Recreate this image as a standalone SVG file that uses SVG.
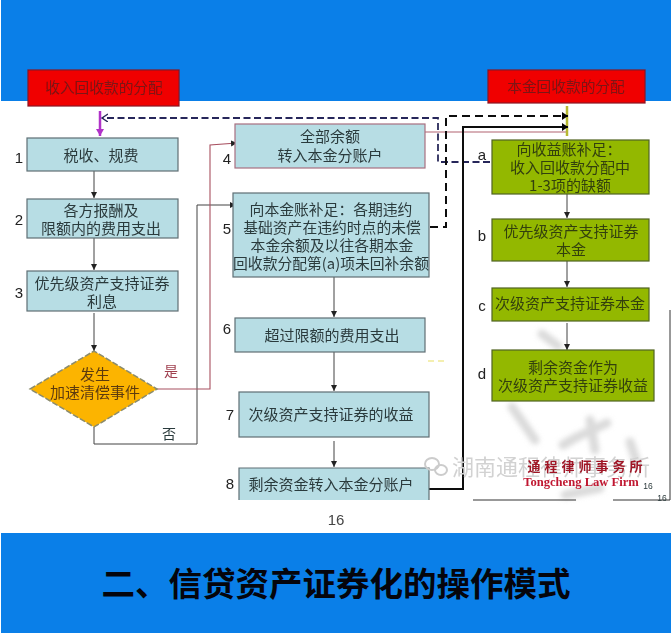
<svg xmlns="http://www.w3.org/2000/svg" width="672" height="633" viewBox="0 0 672 633">
<style>
text{font-family:"Noto Sans CJK SC","Liberation Sans",sans-serif;text-anchor:middle;font-size:15px;fill:#2b3a3c}
.num{font-family:"Liberation Sans",sans-serif;font-size:15px;fill:#222}
.blue{fill:#b7dde4;stroke:#5f6f74;stroke-width:1.2}
.green{fill:#93b800;stroke:#4f6320;stroke-width:1.2}
.red{fill:#f00000;stroke:#8a1020;stroke-width:1.2}
.hd{fill:#7c1414;font-size:14.7px}
.gt{fill:#33400c}
.ln{fill:none;stroke:#444;stroke-width:1}
.wm{fill:none;stroke:#cfcfcf;stroke-linecap:round;opacity:.75}
.n5{font-size:14.8px}
</style>
<defs>
<marker id="a" markerUnits="userSpaceOnUse" markerWidth="8" markerHeight="8" refX="6" refY="3" orient="auto"><path d="M0 0L6 3L0 6Z" fill="#222"/></marker>
<marker id="k" markerUnits="userSpaceOnUse" markerWidth="8" markerHeight="10" refX="6" refY="4" orient="auto"><path d="M0 0L6 4L0 8Z" fill="#000"/></marker>
<marker id="o" markerUnits="userSpaceOnUse" markerWidth="8" markerHeight="10" refX="6" refY="4" orient="auto"><path d="M0 0L6 4L0 8" fill="none" stroke="#27275a" stroke-width="1.4"/></marker>
<marker id="p" markerUnits="userSpaceOnUse" markerWidth="9" markerHeight="8" refX="7" refY="4" orient="auto"><path d="M0 0L7 4L0 8Z" fill="#b030c8"/></marker>
<filter id="s" x="-5%" y="-5%" width="110%" height="110%"><feGaussianBlur stdDeviation="0.35"/></filter>
<filter id="b" x="-20%" y="-20%" width="140%" height="140%"><feGaussianBlur stdDeviation="2.5"/></filter>
</defs>
<rect width="672" height="633" fill="#fff"/>
<rect id="top-band" x="1" width="670" height="101" fill="#0a7fe8"/>
<rect id="bottom-band" x="1" y="533" width="670" height="100" fill="#0a7fe8"/>
<g id="watermark" filter="url(#b)">
<path class="wm" stroke-width="9" d="M542 334L558 346M512 407L535 440M607 423L575 438L563 445M590 420L595 450M630 442L636 460M565 495L600 488"/>
</g>
<g filter="url(#s)">
<g id="connectors">
<path d="M100 111V136" fill="none" stroke="#b030c8" stroke-width="2.5" marker-end="url(#p)"/>
<path d="M94 171V198" class="ln" marker-end="url(#a)"/>
<path d="M94 238V270" class="ln" marker-end="url(#a)"/>
<path d="M94 313V351" class="ln" marker-end="url(#a)"/>
<path d="M94 427V444H197V205H236" class="ln" marker-end="url(#a)"/>
<path d="M157 389H210V145L237 143" fill="none" stroke="#a85060" stroke-width="1.1" marker-end="url(#a)"/>
<path d="M334 277V317" class="ln" marker-end="url(#a)"/>
<path d="M334 352V391" class="ln" marker-end="url(#a)"/>
<path d="M334 441V467" class="ln" marker-end="url(#a)"/>
<path d="M425 132H567" fill="none" stroke="#a85060" stroke-width="0.9"/>
<path d="M567 106V136" fill="none" stroke="#b7b832" stroke-width="2.5"/>
<path d="M490 162H438V118H102" fill="none" stroke="#27275a" stroke-width="1.8" stroke-dasharray="7 3.5" marker-end="url(#o)"/>
<path d="M430 227H446V116H568" fill="none" stroke="#111" stroke-width="2" stroke-dasharray="8 5" marker-end="url(#k)"/>
<path d="M429 489H463V127H568" fill="none" stroke="#111" stroke-width="2" marker-end="url(#k)"/>
<path d="M567 194V218" class="ln" marker-end="url(#a)"/>
<path d="M567 261V287" class="ln" marker-end="url(#a)"/>
<path d="M567 323V350" class="ln" marker-end="url(#a)"/>
</g>
<g id="hd-left"><rect class="red" x="28" y="70" width="151" height="36"/><text class="hd" x="104" y="93">收入回收款的分配</text></g>
<g id="hd-right"><rect class="red" x="488" y="70" width="157" height="33"/><text class="hd" x="566" y="92">本金回收款的分配</text></g>
<g id="n1"><rect class="blue" x="27" y="138" width="151" height="33"/><text x="101" y="161">税收、规费</text><text class="num" x="19" y="163">1</text></g>
<g id="n2"><rect class="blue" x="27" y="199" width="151" height="39"/><text x="101" y="216">各方报酬及</text><text x="101" y="234">限额内的费用支出</text><text class="num" x="19" y="225">2</text></g>
<g id="n3"><rect class="blue" x="27" y="271" width="151" height="40"/><text x="102" y="289">优先级资产支持证券</text><text x="102" y="307">利息</text><text class="num" x="19" y="298">3</text></g>
<g id="n-d"><path d="M30 389L94 351L157 389L94 427Z" fill="#fcb400" stroke="#8c8c6c" stroke-width="1.5" stroke-dasharray="6 2"/><text x="95" y="380" style="fill:#5c3a10">发生</text><text x="95" y="398" style="fill:#5c3a10">加速清偿事件</text></g>
<text x="171" y="376" style="font-size:14px;fill:#a04050">是</text>
<text x="169" y="439" style="font-size:14px">否</text>
<g id="n4"><rect x="235" y="124" width="190" height="44" fill="#b7dde4" stroke="#a87080" stroke-width="1.2"/><text x="330" y="142">全部余额</text><text x="330" y="161">转入本金分账户</text><text class="num" x="227" y="164">4</text></g>
<g id="n5"><rect class="blue" x="233" y="193" width="196" height="84"/><text class="n5" x="331" y="215">向本金账补足：各期违约</text><text class="n5" x="332" y="233">基础资产在违约时点的未偿</text><text class="n5" x="332" y="251">本金余额及以往各期本金</text><text class="n5" x="331" y="269">回收款分配第(a)项未回补余额</text><text class="num" x="227" y="234">5</text></g>
<g id="n6"><rect class="blue" x="235" y="318" width="190" height="34"/><text x="332" y="341">超过限额的费用支出</text><text class="num" x="227" y="334">6</text></g>
<g id="n7"><rect class="blue" x="239" y="392" width="190" height="45"/><text x="331" y="420">次级资产支持证券的收益</text><text class="num" x="230" y="420">7</text></g>
<g id="n8"><path d="M239 500V468H429V500" class="blue"/><text x="331" y="490">剩余资金转入本金分账户</text><text class="num" x="230" y="489">8</text></g>
<g id="na"><rect class="green" x="492" y="140" width="157" height="54"/><text class="gt" x="569" y="155">向收益账补足：</text><text class="gt" x="570" y="173">收入回收款分配中</text><text class="gt" x="570" y="191">1-3项的缺额</text><text class="num" x="482" y="160">a</text></g>
<g id="nb"><rect class="green" x="492" y="219" width="157" height="42"/><text class="gt" x="571" y="237">优先级资产支持证券</text><text class="gt" x="571" y="255">本金</text><text class="num" x="482" y="241">b</text></g>
<g id="nc"><rect class="green" x="492" y="288" width="157" height="33"/><text class="gt" x="570" y="309">次级资产支持证券本金</text><text class="num" x="482" y="311">c</text></g>
<g id="nd"><rect class="green" x="492" y="350" width="162" height="51"/><text class="gt" x="573" y="373">剩余资金作为</text><text class="gt" x="573" y="391">次级资产支持证券收益</text><text class="num" x="482" y="379">d</text></g>
<path d="M473 500H576M613 500H670M670 310V500" fill="none" stroke="#333" stroke-width="1"/>
<path d="M428 361h6M438 361h6" stroke="#f4efb0" stroke-width="2"/>
<g fill="none" stroke="#ccc" stroke-width="2"><ellipse cx="432" cy="464" rx="7" ry="6"/><ellipse cx="441" cy="470" rx="6" ry="5"/></g>
<text x="551" y="475" style="font-size:22px;fill:#d2d2d2">湖南通程律师事务所</text>
<text x="587" y="471" style="font-size:13px;letter-spacing:4px;fill:#a01828;font-family:'Noto Sans CJK SC',serif;font-weight:700">通程律师事务所</text>
<text x="581" y="486" style="font-size:12.6px;fill:#c01830;font-family:'Liberation Serif',serif;font-weight:700">Tongcheng Law Firm</text>
<text x="648" y="489" style="font-size:8.5px;font-family:'Liberation Sans',sans-serif">16</text>
<text x="662" y="501" style="font-size:8.5px;font-family:'Liberation Sans',sans-serif">16</text>
<text x="336" y="525" style="font-size:15px;font-family:'Liberation Sans',sans-serif;fill:#444">16</text>
</g>
<text id="title" x="336" y="596" style="font-size:33.5px;font-weight:700;fill:#05050c">二、信贷资产证券化的操作模式</text>
</svg>
